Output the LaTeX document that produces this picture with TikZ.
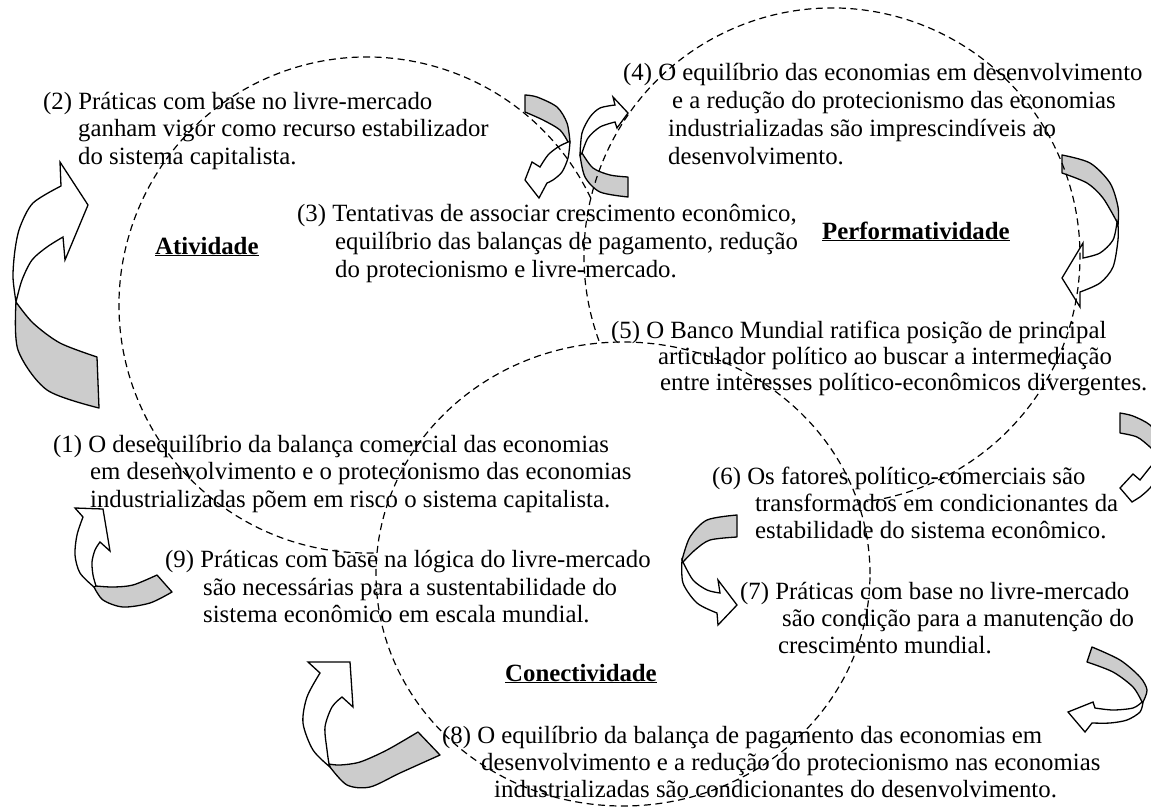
\documentclass[tikz,border=0pt]{standalone}
\usepackage{fontspec}
\setmainfont{Liberation Serif}
\begin{document}
\begin{tikzpicture}[x=1pt,y=-1pt]
\tikzset{
  txt/.style={anchor=base west, inner sep=0pt, font=\fontsize{24.8}{27}\selectfont},
  lbl/.style={anchor=base west, inner sep=0pt, font=\fontsize{24.8}{27}\selectfont\bfseries},
  dsh/.style={dash pattern=on 7pt off 4.5pt, line width=1.2pt},
  back/.style={fill=black!20, draw=black, line width=1.3pt, line join=round},
  front/.style={fill=white, draw=black, line width=1.3pt, line join=miter},
}
\useasboundingbox (0,0) rectangle (1151,806);
\clip (0,0) rectangle (1151,806);

% ---- curved ribbon arrows ----
% A (left, upwards)
\filldraw[back] plot[smooth] coordinates {(16,302) (18,350) (47,390) (99,408)} -- plot[smooth] coordinates {(97,357) (60,343) (33,323) (16,302)} -- cycle;
\filldraw[front] plot[smooth] coordinates {(16,302) (13,277) (15,250) (20,227) (33,203) (61,186)} -- (60,162) -- (88,205) -- (65,260) -- plot[smooth] coordinates {(63,237) (47,247) (32,260) (22,280) (16,302)} -- cycle;
% B (top pair, left)
\filldraw[back] plot[smooth] coordinates {(525,95) (537,97) (557,107) (567,123) (570,142)} -- plot[smooth] coordinates {(568,142) (560,130) (543,120) (525,112)} -- cycle;
\filldraw[front] plot[smooth] coordinates {(570,142) (568,158) (562,172) (553,180) (547,183)} -- (539,198) -- (525,180) -- (532,162) -- plot[smooth] coordinates {(540,167) (548,155) (558,147) (568,142)} -- cycle;
% C (top pair, right)
\filldraw[back] plot[smooth] coordinates {(580,155) (585,177) (600,192) (628,197)} -- plot[smooth] coordinates {(628,177) (610,175) (593,168) (582,153)} -- cycle;
\filldraw[front] plot[smooth] coordinates {(580,155) (582,133) (590,117) (600,108) (615,105)} -- (613,97) -- (628,113) -- (617,128) -- plot[smooth] coordinates {(615,122) (600,127) (588,138) (582,153)} -- cycle;
% D (right, below (4))
\filldraw[back] plot[smooth] coordinates {(1062,155) (1090,163) (1110,183) (1118,207) (1118,225)} -- plot[smooth] coordinates {(1117,222) (1103,198) (1087,183) (1062,173)} -- cycle;
\filldraw[front] plot[smooth] coordinates {(1118,225) (1118,240) (1113,267) (1100,283) (1080,292)} -- (1080,307) -- (1062,278) -- (1083,243) -- plot[smooth] coordinates {(1083,258) (1100,253) (1113,240) (1117,222)} -- cycle;
% E (right edge, near (6))
\filldraw[back] plot[smooth] coordinates {(1120,413) (1133,416) (1150,425) (1160,440) (1163,458)} -- plot[smooth] coordinates {(1160,457) (1150,447) (1137,437) (1120,433)} -- cycle;
\filldraw[front] plot[smooth] coordinates {(1163,458) (1158,475) (1150,488) (1140,497)} -- (1132,502) -- (1120,488) -- (1133,474) -- plot[smooth] coordinates {(1140,480) (1152,465) (1160,457)} -- cycle;
% F (between (9) and (7))
\filldraw[back] plot[smooth] coordinates {(737,515) (707,520) (690,537) (682,560)} -- plot[smooth] coordinates {(683,562) (695,550) (710,540) (737,537)} -- cycle;
\filldraw[front] plot[smooth] coordinates {(682,560) (683,583) (697,603) (717,613)} -- (718,625) -- (737,605) -- (718,580) -- plot[smooth] coordinates {(720,593) (707,590) (693,580) (683,562)} -- cycle;
% G (lower right)
\filldraw[back] plot[smooth] coordinates {(1092,647) (1120,660) (1140,677) (1147,690) (1143,702)} -- plot[smooth] coordinates {(1142,702) (1133,687) (1113,672) (1087,662)} -- cycle;
\filldraw[front] plot[smooth] coordinates {(1143,702) (1140,712) (1127,720) (1110,723) (1092,723)} -- (1085,732) -- (1068,712) -- (1093,702) -- plot[smooth] coordinates {(1095,708) (1113,710) (1133,708) (1142,702)} -- cycle;
% H (small, near (9))
\filldraw[back] plot[smooth] coordinates {(172,592) (150,603) (123,607) (103,600) (94,587)} -- plot[smooth] coordinates {(96,586) (113,587) (133,585) (157,575)} -- cycle;
\filldraw[front] plot[smooth] coordinates {(94,587) (80,573) (75,555) (77,535) (83,517)} -- (75,508) -- (103,509) -- (110,551) -- plot[smooth] coordinates {(100,542) (95,550) (92,562) (93,575) (96,586)} -- cycle;
% I (lower left, near (8))
\filldraw[back] plot[smooth] coordinates {(440,755) (400,773) (370,787) (347,785) (330,767)} -- plot[smooth] coordinates {(329,764) (340,765) (360,762) (387,750) (418,732)} -- cycle;
\filldraw[front] plot[smooth] coordinates {(330,767) (313,750) (303,723) (307,697) (320,673)} -- (308,662) -- (350,662) -- (353,707) -- plot[smooth] coordinates {(342,697) (332,707) (325,727) (327,750) (329,764)} -- cycle;

% ---- dashed arcs ----
\draw[dsh] (367,305) ++(25.5:248pt) arc[start angle=25.5, end angle=272.3, radius=248pt];
\draw[dsh] (832,256) ++(200:248pt) arc[start angle=200, end angle=-82, radius=248pt];
\draw[dsh] (623,574) ellipse[x radius=247pt, y radius=232pt];

% ---- texts ----
\node[txt] (t2a) at (43,109) {(2) Práticas com base no livre-mercado};
\node[txt] (t2b) at (78,136) {ganham vigor como recurso estabilizador};
\node[txt] (t2c) at (78,164) {do sistema capitalista.};

\node[txt] (t4a) at (623,80) {(4) O equilíbrio das economias em desenvolvimento};
\node[txt] (t4b) at (672,108) {e a redução do protecionismo das economias};
\node[txt] (t4c) at (668,136) {industrializadas são imprescindíveis ao};
\node[txt] (t4d) at (668,164) {desenvolvimento.};

\node[txt] (t3a) at (297,221) {(3) Tentativas de associar crescimento econômico,};
\node[txt] (t3b) at (335,249) {equilíbrio das balanças de pagamento, redução};
\node[txt] (t3c) at (335,277) {do protecionismo e livre-mercado.};

\node[lbl] (perf) at (822,239) {\underline{Performatividade}};
\node[lbl] (ativ) at (155,254) {\underline{Atividade}};
\node[lbl] (conec) at (505,681) {\underline{Conectividade}};

\node[txt] (t5a) at (611,338) {(5) O Banco Mundial ratifica posição de principal};
\node[txt] (t5b) at (658,364) {articulador político ao buscar a intermediação};
\node[txt] (t5c) at (660,390) {entre interesses político-econômicos divergentes.};

\node[txt] (t1a) at (53,452) {(1) O desequilíbrio da balança comercial das economias};
\node[txt] (t1b) at (90,479) {em desenvolvimento e o protecionismo das economias};
\node[txt] (t1c) at (90,507) {industrializadas põem em risco o sistema capitalista.};

\node[txt] (t6a) at (712,484) {(6) Os fatores político-comerciais são};
\node[txt] (t6b) at (755,511) {transformados em condicionantes da};
\node[txt] (t6c) at (755,538) {estabilidade do sistema econômico.};

\node[txt] (t9a) at (165,567) {(9) Práticas com base na lógica do livre-mercado};
\node[txt] (t9b) at (203,595) {são necessárias para a sustentabilidade do};
\node[txt] (t9c) at (203,622) {sistema econômico em escala mundial.};

\node[txt] (t7a) at (740,599) {(7) Práticas com base no livre-mercado};
\node[txt] (t7b) at (782,626) {são condição para a manutenção do};
\node[txt] (t7c) at (778,653) {crescimento mundial.};

\node[txt] (t8a) at (442,743) {(8) O equilíbrio da balança de pagamento das economias em};
\node[txt] (t8b) at (481,770) {desenvolvimento e a redução do protecionismo nas economias};
\node[txt] (t8c) at (494,797) {industrializadas são condicionantes do desenvolvimento.};
\end{tikzpicture}
\end{document}
